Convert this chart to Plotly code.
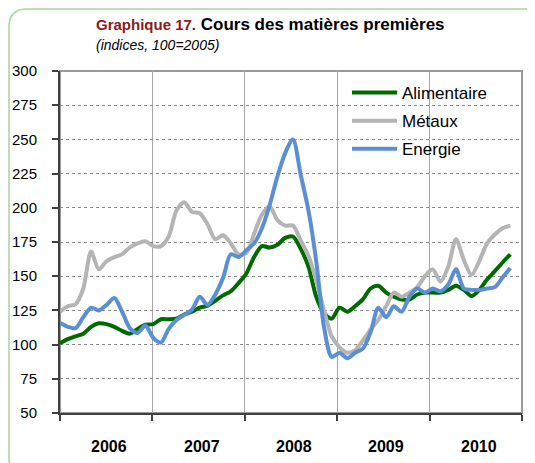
import plotly.graph_objects as go

# ---------------- data (monthly, Jan 2006 -> Nov 2010) ----------------
months = list(range(59))
alimentaire = [101, 104, 106, 108, 113, 115.6, 115, 113, 110, 108, 111.5, 114.5,
               115, 118.5, 118.5, 119, 122, 124, 127, 128.5, 132, 136, 139, 145,
               152, 164, 172, 171, 173, 178, 179, 170, 157, 135, 123, 119,
               127, 124, 128, 133, 141, 143, 138, 135, 133, 133, 136.6, 138,
               138, 138, 140, 143, 140, 135.5, 140, 147.6, 153.7, 160, 166]
metaux = [124, 128, 129.5, 141, 168, 155, 161, 164, 166, 171, 174, 175.6,
          172, 172, 179, 198, 204, 197, 196, 188, 177, 180, 174, 166,
          167, 181, 195, 201, 191, 187, 187, 176, 165, 147, 125, 106,
          98, 94, 96, 103, 111, 118, 128, 138, 135, 138, 142, 150,
          155, 146, 157, 177, 162, 151, 161, 174, 180.5, 185, 187]
energie = [116, 113, 112, 120, 127, 125, 129, 134, 124, 112, 108.5, 114,
           105, 101.5, 111.5, 118, 121.7, 125.6, 135, 129, 136.6, 148.8, 166, 164,
           169, 174, 185, 202, 223, 240, 250, 224, 198, 161, 113, 91,
           94, 90, 94, 97, 109, 127, 120, 128, 124, 135, 141, 138,
           141, 139, 144, 155, 141, 140, 140, 141, 142, 149, 156]
years = ["2006", "2007", "2008", "2009", "2010"]
yticks = [50, 75, 100, 125, 150, 175, 200, 225, 250, 275, 300]
series_names = ["Alimentaire", "Métaux", "Energie"]
series_colors = ["#006a00", "#b4b4b4", "#5a8fd6"]

# ---------------- layout geometry ----------------
# the page puts the figure 8px from the window's top-left corner
OFF = 8
W, H = 535 - OFF, 463 - OFF
ML, MR, MT, MB = 60 - OFF, 13, 71 - OFF, 50
PW, PH = W - ML - MR, H - MT - MB


def px(x):
    """window x pixel -> paper coordinate"""
    return (x - OFF - ML) / PW


def py(y):
    """window y pixel -> paper coordinate"""
    return (H - MB - (y - OFF)) / PH


XMAX = 59.5
year_w = XMAX / len(years)
bounds = [i * year_w for i in range(len(years) + 1)]
FONT = "Liberation Sans, Arial, sans-serif"

fig = go.Figure()
for name, vals, col in zip(series_names, [alimentaire, metaux, energie], series_colors):
    fig.add_trace(go.Scatter(
        x=months, y=vals, mode="lines", name=name, legendgroup=name,
        line=dict(color=col, width=4, shape="spline", smoothing=0.8),
        hoverinfo="skip"))

# rounded outer frame (window pixel coords)
x0, y0, x1, y1, r = 9, 9, 548, 476, 18
pts = [("M", x0 + r, y0), ("L", x1 - r, y0), ("Q", x1, y0, x1, y0 + r), ("L", x1, y1 - r),
       ("Q", x1, y1, x1 - r, y1), ("L", x0 + r, y1), ("Q", x0, y1, x0, y1 - r),
       ("L", x0, y0 + r), ("Q", x0, y0, x0 + r, y0)]
path = ""
for p in pts:
    cmd, coords = p[0], p[1:]
    s = []
    for i in range(0, len(coords), 2):
        s.append(f"{px(coords[i]):.5f},{py(coords[i+1]):.5f}")
    path += cmd + " " + " ".join(s) + " "
path += "Z"

shapes = [
    dict(type="path", xref="paper", yref="paper", path=path,
         line=dict(color="#a9d3a0", width=1.5), layer="below"),
    dict(type="rect", xref="paper", yref="paper", x0=0, x1=1, y0=0, y1=1,
         line=dict(color="#9a9a9a", width=2), layer="below"),
]

annotations = [
    dict(xref="paper", yref="paper", x=px(94), y=py(24), xanchor="left", yanchor="middle",
         text='<b><span style="color:#8b1a1a;font-size:15px">Graphique 17.</span> Cours des matières premières</b>',
         showarrow=False, font=dict(family=FONT, size=17, color="#000000")),
    dict(xref="paper", yref="paper", x=px(94), y=py(44.5), xanchor="left", yanchor="middle",
         text="<i>(indices, 100=2005)</i>", showarrow=False,
         font=dict(family=FONT, size=14, color="#000000")),
]
for i, yr in enumerate(years):
    annotations.append(dict(xref="x", yref="paper", x=(bounds[i] + bounds[i + 1]) / 2, y=py(446),
                            xanchor="center", yanchor="middle", xshift=3, text=f"<b>{yr}</b>",
                            showarrow=False, font=dict(family=FONT, size=16, color="#000000")))

fig.update_layout(
    width=W, height=H, margin=dict(l=ML, r=MR, t=MT, b=MB, pad=0, autoexpand=False),
    paper_bgcolor="white", plot_bgcolor="white",
    font=dict(family=FONT, size=15, color="#000000"),
    showlegend=True,
    legend=dict(x=px(347), y=py(75), xanchor="left", yanchor="top",
                bgcolor="rgba(0,0,0,0)", font=dict(family=FONT, size=17, color="#000000"),
                itemwidth=45, tracegroupgap=3, traceorder="grouped"),
    shapes=shapes, annotations=annotations,
    xaxis=dict(range=[0, XMAX], tickvals=bounds, showticklabels=False, ticks="outside",
               ticklen=6, tickcolor="#404040", tickwidth=1.5, showgrid=True,
               gridcolor="#a8a8a8", gridwidth=1, showline=True, linecolor="#404040",
               linewidth=2, zeroline=False, fixedrange=True, automargin=False),
    yaxis=dict(range=[50, 300], tickvals=yticks, ticks="outside", ticklen=6,
               tickcolor="#404040", tickwidth=1.5, showgrid=True, griddash="dot",
               gridcolor="#8c8c8c", gridwidth=1, showline=True, linecolor="#404040",
               linewidth=2, zeroline=False, ticklabelstandoff=12, automargin=False,
               tickfont=dict(family=FONT, size=15, color="#000000"), fixedrange=True),
)

fig.write_html("out.html")
